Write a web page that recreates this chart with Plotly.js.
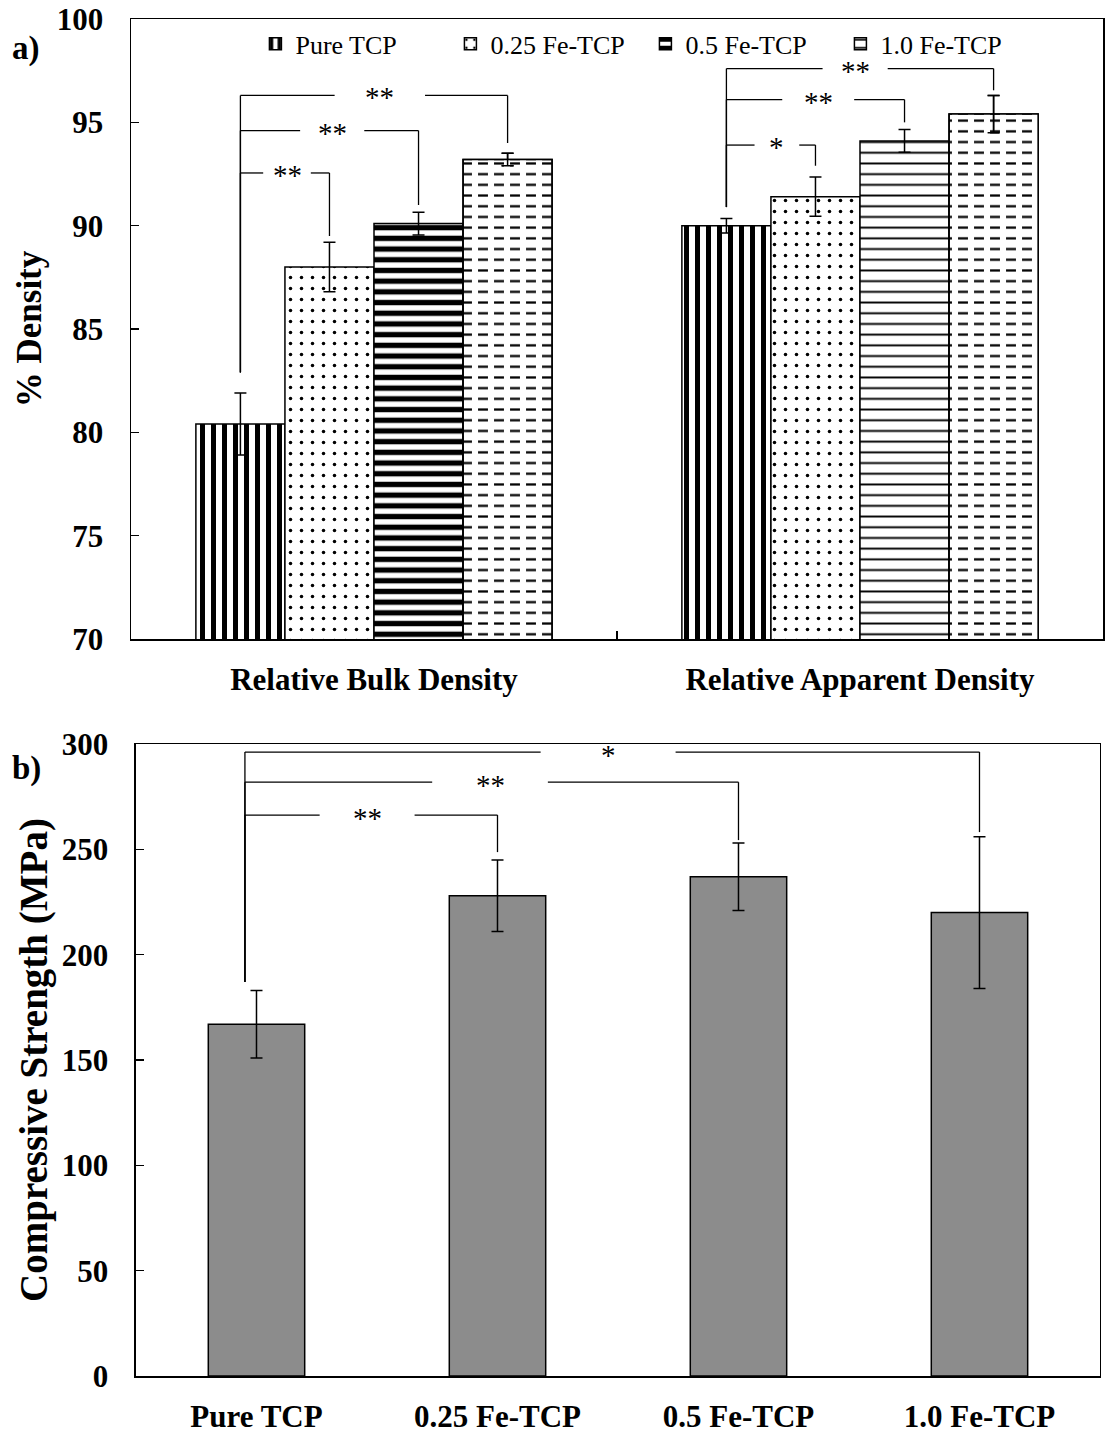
<!DOCTYPE html>
<html>
<head>
<meta charset="utf-8">
<script src="https://cdn.plot.ly/plotly-3.0.1.min.js"></script>
<style>html,body{margin:0;padding:0;background:#fff;}#chart{width:1106px;height:1434px;}</style>
</head>
<body>
<div id="chart"></div>
<script>
// ---- data ----
const groups = ['Relative Bulk Density', 'Relative Apparent Density'];
const seriesNames = ['Pure TCP', '0.25 Fe-TCP', '0.5 Fe-TCP', '1.0 Fe-TCP'];
const densPure = [80.4, 90.0];
const errPure = [1.5, 0.35];
const dens025 = [88.0, 91.4];
const err025 = [1.2, 0.95];
const dens05 = [90.1, 94.1];
const err05 = [0.55, 0.55];
const dens10 = [93.2, 95.4];
const err10 = [0.3, 0.9];

const samples = ['Pure TCP', '0.25 Fe-TCP', '0.5 Fe-TCP', '1.0 Fe-TCP'];
const strength = [167, 228, 237, 220];
const strengthErr = [16, 17, 16, 36];

// significance brackets: group index, target series index, level, end level, label
const sigA = [
  {g: 0, to: 1, level: 92.55, end: 89.5, text: '**', lx: -0.179, half: 0.049, start: 82.9},
  {g: 0, to: 2, level: 94.6, end: 91.0, text: '**', lx: -0.086, half: 0.066, start: 82.9},
  {g: 0, to: 3, level: 96.3, end: 94.0, text: '**', lx: 0.012, half: 0.093, start: 82.9},
  {g: 1, to: 1, level: 93.9, end: 92.9, text: '*', lx: -0.171, half: 0.046, start: 90.9},
  {g: 1, to: 2, level: 96.1, end: 95.0, text: '**', lx: -0.086, half: 0.074, start: 90.9},
  {g: 1, to: 3, level: 97.6, end: 96.55, text: '**', lx: -0.010, half: 0.067, start: 90.9}
];
const sigB = [
  {to: 1, level: 266.3, end: 248.7, text: '**', lx: 0.459, half: 0.197, start: 187},
  {to: 2, level: 281.9, end: 254.4, text: '**', lx: 0.969, half: 0.24, start: 187},
  {to: 3, level: 296.2, end: 258.2, text: '*', lx: 1.459, half: 0.28, start: 187}
];

// ---- style ----
const FONT = 'Liberation Serif, Times New Roman, serif';
const bargap = 0.267;
const barW = (1 - bargap) / 4;
const offs = [0, 1, 2, 3].map(k => -0.5 + bargap / 2 + barW * (k + 0.5));
const lineStyle = {color: '#000', width: 1.5};

function errObj(arr) {
  return {type: 'data', array: arr, visible: true, color: '#000', thickness: 1.5, width: 6};
}

const patterns = [
  {shape: '|', size: 11, solidity: 0.45, fgcolor: '#000', bgcolor: '#fff', fillmode: 'replace'},
  {shape: '.', size: 11, solidity: 0.08, fgcolor: '#000', bgcolor: '#fff', fillmode: 'replace'},
  {shape: '-', size: 10.7, solidity: [0.5, 0.18], fgcolor: '#000', bgcolor: '#fff', fillmode: 'replace'},
  {shape: '-', size: 10.7, solidity: 0.21, fgcolor: '#000', bgcolor: '#fff', fillmode: 'replace'}
];
const densVals = [densPure, dens025, dens05, dens10];
const densErrs = [errPure, err025, err05, err10];

const traces = [];
for (let k = 0; k < 4; k++) {
  traces.push({
    type: 'bar', x: groups, y: densVals[k], name: seriesNames[k],
    xaxis: 'x', yaxis: 'y', offsetgroup: 'g' + k,
    marker: {color: '#fff', line: lineStyle, pattern: patterns[k]},
    error_y: errObj(densErrs[k]),
    hoverinfo: 'skip'
  });
}
// white vertical gaps over the 1.0 Fe-TCP lines turn them into dashes
traces.push({
  type: 'bar', x: groups, y: dens10, name: 'dash overlay', showlegend: false,
  xaxis: 'x', yaxis: 'y', offsetgroup: 'g3',
  marker: {color: 'rgba(0,0,0,0)', line: lineStyle,
    pattern: {shape: '|', size: 16, solidity: 0.38, fgcolor: '#fff', fgopacity: 1,
      bgcolor: 'rgba(0,0,0,0)', fillmode: 'replace'}},
  error_y: errObj(err10),
  hoverinfo: 'skip'
});
traces.push({
  type: 'bar', x: samples, y: strength, name: 'Compressive Strength', showlegend: false,
  xaxis: 'x2', yaxis: 'y2',
  marker: {color: '#8c8c8c', line: lineStyle},
  error_y: errObj(strengthErr),
  width: 0.40,
  hoverinfo: 'skip'
});

// bracket shapes + labels
const shapes = [];
const annotations = [];
function ln(x0, y0, x1, y1, xr, yr) {
  shapes.push({type: 'line', xref: xr, yref: yr, x0: x0, y0: y0, x1: x1, y1: y1,
    line: {color: '#000', width: 1.3}});
}
const starFont = {family: FONT, size: 29, color: '#000'};
sigA.forEach(s => {
  const x0 = s.g + offs[0];
  const x1 = s.g + offs[s.to];
  const tx = s.g + s.lx;
  ln(x0, s.start, x0, s.level, 'x', 'y');
  ln(x0, s.level, tx - s.half, s.level, 'x', 'y');
  ln(tx + s.half, s.level, x1, s.level, 'x', 'y');
  ln(x1, s.level, x1, s.end, 'x', 'y');
  annotations.push({xref: 'x', yref: 'y', x: tx, y: s.level, text: s.text, showarrow: false,
    yanchor: 'middle', yshift: -2, font: starFont});
});
sigB.forEach(s => {
  const x0 = -0.048;
  const x1 = s.to;
  ln(x0, s.start, x0, s.level, 'x2', 'y2');
  ln(x0, s.level, s.lx - s.half, s.level, 'x2', 'y2');
  ln(s.lx + s.half, s.level, x1, s.level, 'x2', 'y2');
  ln(x1, s.level, x1, s.end, 'x2', 'y2');
  annotations.push({xref: 'x2', yref: 'y2', x: s.lx, y: s.level, text: s.text, showarrow: false,
    yanchor: 'middle', yshift: -3, font: starFont});
});
annotations.push({xref: 'paper', yref: 'paper', x: -0.125, y: 0.978, xanchor: 'left', yanchor: 'middle',
  text: '<b>a)</b>', showarrow: false, font: {family: FONT, size: 33, color: '#000'}});
annotations.push({xref: 'paper', yref: 'paper', x: -0.125, y: 0.448, xanchor: 'left', yanchor: 'middle',
  text: '<b>b)</b>', showarrow: false, font: {family: FONT, size: 33, color: '#000'}});

const tickFont = {family: FONT, size: 31, color: '#000', weight: 'bold'};
const axisCommon = {showline: true, linecolor: '#000', linewidth: 1.5, mirror: true,
  showgrid: false, zeroline: false, tickfont: tickFont, ticklen: 8, tickwidth: 1.5, tickcolor: '#000'};

const layout = {
  width: 1106, height: 1434,
  margin: {l: 131, r: 3, t: 19, b: 58},
  paper_bgcolor: '#fff', plot_bgcolor: '#fff',
  barmode: 'group', bargap: bargap, bargroupgap: 0,
  font: {family: FONT, color: '#000'},
  showlegend: true,
  legend: {orientation: 'h', x: 0.128, y: 0.999, xanchor: 'left', yanchor: 'top',
    font: {family: FONT, size: 26, color: '#000'}, bgcolor: 'rgba(0,0,0,0)',
    entrywidth: 150, entrywidthmode: 'pixels', itemwidth: 30, traceorder: 'normal'},
  xaxis: Object.assign({}, axisCommon, {domain: [0, 1], anchor: 'y', type: 'category',
    ticks: 'inside', tickson: 'boundaries', ticklabelstandoff: 12}),
  yaxis: Object.assign({}, axisCommon, {domain: [0.5431, 1], anchor: 'x', range: [70, 100],
    dtick: 5, ticks: 'inside', ticklabelstandoff: 20,
    title: {text: '<b>% Density</b>', font: {family: FONT, size: 35, color: '#000'}, standoff: 4}}),
  xaxis2: Object.assign({}, axisCommon, {domain: [0.00514, 0.9969], anchor: 'y2', type: 'category',
    ticks: '', ticklabelstandoff: 12}),
  yaxis2: Object.assign({}, axisCommon, {domain: [0, 0.4657], anchor: 'x2', range: [0, 300],
    dtick: 50, ticks: 'inside', ticklabelstandoff: 20,
    title: {text: '<b>Compressive Strength (MPa)</b>', font: {family: FONT, size: 39, color: '#000'}, standoff: 2}}),
  shapes: shapes,
  annotations: annotations
};

Plotly.newPlot('chart', traces, layout, {staticPlot: true, displayModeBar: false});
</script>
</body>
</html>
